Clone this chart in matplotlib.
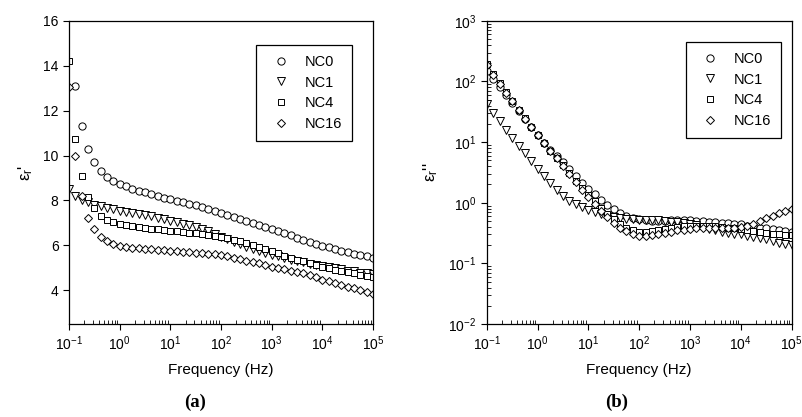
import matplotlib
matplotlib.use('Agg')
import matplotlib.pyplot as plt
from matplotlib.ticker import LogLocator, NullFormatter
import numpy as np

plt.rcParams['font.family'] = ['Liberation Sans', 'DejaVu Sans']
plt.rcParams['mathtext.fontset'] = 'custom'
plt.rcParams['mathtext.rm'] = 'Liberation Sans'
plt.rcParams['mathtext.it'] = 'Liberation Sans:italic'
plt.rcParams['mathtext.bf'] = 'Liberation Sans:bold'

# measurement grid: 8 points per decade, 0.1 Hz .. 100 kHz
freq = np.logspace(-1, 5, 49)

labels = ['NC0', 'NC1', 'NC4', 'NC16']
markers = ['o', 'v', 's', 'D']
msizes = [5.2, 5.2, 4.6, 4.4]

# (a) real part
eps1_nc0 = [17.5, 13.1, 11.3, 10.3, 9.7, 9.3, 9.04, 8.86, 8.74,
            8.63, 8.53, 8.44, 8.36, 8.28, 8.2, 8.13, 8.06,
            7.99, 7.92, 7.85, 7.78, 7.7, 7.62, 7.53, 7.45,
            7.36, 7.27, 7.18, 7.09, 7.0, 6.91, 6.81, 6.72,
            6.63, 6.54, 6.45, 6.35, 6.26, 6.17, 6.08, 5.99,
            5.91, 5.83, 5.76, 5.69, 5.63, 5.57, 5.51, 5.45]
eps1_nc1 = [8.49, 8.2, 8.04, 7.93, 7.82, 7.74, 7.67, 7.61, 7.55,
            7.5, 7.45, 7.4, 7.35, 7.3, 7.24, 7.17, 7.1,
            7.03, 6.96, 6.89, 6.81, 6.72, 6.62, 6.5, 6.38,
            6.27, 6.16, 6.05, 5.95, 5.85, 5.76, 5.67, 5.59,
            5.51, 5.44, 5.37, 5.31, 5.25, 5.19, 5.13, 5.08,
            5.03, 4.98, 4.93, 4.88, 4.84, 4.79, 4.75, 4.72]
eps1_nc4 = [14.19, 10.76, 9.07, 8.15, 7.65, 7.33, 7.15, 7.03, 6.95,
            6.9, 6.86, 6.82, 6.78, 6.75, 6.71, 6.68, 6.65,
            6.62, 6.6, 6.57, 6.54, 6.5, 6.46, 6.42, 6.38,
            6.32, 6.25, 6.18, 6.1, 6.02, 5.93, 5.84, 5.75,
            5.65, 5.55, 5.46, 5.37, 5.29, 5.2, 5.12, 5.05,
            4.98, 4.92, 4.86, 4.8, 4.75, 4.7, 4.65, 4.6]
eps1_nc16 = [13.04, 10.0, 8.2, 7.23, 6.71, 6.39, 6.19, 6.05, 5.97,
             5.93, 5.9, 5.87, 5.85, 5.83, 5.8, 5.78, 5.76,
             5.74, 5.72, 5.7, 5.68, 5.66, 5.63, 5.6, 5.57,
             5.51, 5.45, 5.38, 5.32, 5.26, 5.2, 5.13, 5.06,
             5.0, 4.93, 4.88, 4.83, 4.76, 4.7, 4.6, 4.48,
             4.4, 4.32, 4.25, 4.17, 4.09, 4.01, 3.93, 3.85]

# (b) imaginary part
eps2_nc0 = [150, 110, 81, 59, 44, 33, 24, 17.5, 13,
            9.8, 7.5, 5.9, 4.7, 3.6, 2.75, 2.15, 1.7,
            1.38, 1.12, 0.92, 0.78, 0.68, 0.61, 0.56, 0.53,
            0.51, 0.5, 0.5, 0.5, 0.51, 0.51, 0.51, 0.51,
            0.5, 0.5, 0.49, 0.48, 0.47, 0.46, 0.45, 0.44,
            0.42, 0.41, 0.39, 0.38, 0.37, 0.35, 0.34, 0.33]
eps2_nc1 = [42.5, 30, 22, 15.9, 11.9, 8.7, 6.6, 4.9, 3.6,
            2.75, 2.1, 1.62, 1.3, 1.08, 0.95, 0.85, 0.77,
            0.7, 0.65, 0.61, 0.58, 0.56, 0.54, 0.53, 0.52,
            0.52, 0.51, 0.51, 0.5, 0.49, 0.48, 0.47, 0.45,
            0.43, 0.4, 0.37, 0.35, 0.33, 0.32, 0.31, 0.3,
            0.28, 0.27, 0.26, 0.25, 0.235, 0.22, 0.21, 0.2]
eps2_nc4 = [195, 135, 95, 66, 48, 34, 24.6, 18, 13.2,
            9.6, 7.2, 5.5, 4.2, 3.1, 2.3, 1.75, 1.35,
            1.05, 0.82, 0.65, 0.53, 0.45, 0.39, 0.35, 0.33,
            0.33, 0.34, 0.35, 0.37, 0.38, 0.4, 0.41, 0.42,
            0.42, 0.42, 0.42, 0.41, 0.4, 0.39, 0.38, 0.37,
            0.36, 0.34, 0.33, 0.32, 0.31, 0.3, 0.295, 0.29]
eps2_nc16 = [185, 128, 92, 64, 47, 34, 24.5, 17.8, 13,
             9.5, 7.1, 5.4, 4.1, 3.0, 2.2, 1.65, 1.25,
             0.95, 0.74, 0.58, 0.47, 0.39, 0.34, 0.3, 0.28,
             0.28, 0.29, 0.3, 0.32, 0.33, 0.35, 0.36, 0.37,
             0.38, 0.38, 0.39, 0.39, 0.39, 0.39, 0.39, 0.4,
             0.42, 0.45, 0.5, 0.55, 0.61, 0.67, 0.73, 0.79]

eps1 = [eps1_nc0, eps1_nc1, eps1_nc4, eps1_nc16]
eps2 = [eps2_nc0, eps2_nc1, eps2_nc4, eps2_nc16]

fig = plt.figure(figsize=(8.02, 4.17), dpi=100)
ax1 = fig.add_axes([0.086, 0.223, 0.379, 0.727])
ax2 = fig.add_axes([0.607, 0.223, 0.380, 0.727])


def style_axis(ax):
    ax.set_xscale('log')
    ax.set_xlim(0.1, 1e5)
    ax.xaxis.set_minor_locator(LogLocator(base=10, subs=np.arange(2, 10), numticks=20))
    ax.xaxis.set_minor_formatter(NullFormatter())
    ax.tick_params(which='major', direction='out', length=4, width=0.8,
                   labelsize=10, top=False, right=False)
    ax.tick_params(which='minor', direction='in', length=3, width=0.6,
                   top=False, right=False)
    for sp in ax.spines.values():
        sp.set_linewidth(0.9)
    ax.set_xlabel('Frequency (Hz)', fontsize=11, labelpad=7)


for ys, lab, mk, ms in zip(eps1, labels, markers, msizes):
    ax1.plot(freq, ys, linestyle='none', marker=mk, markersize=ms,
             markerfacecolor='white', markeredgecolor='black',
             markeredgewidth=0.7, label=lab)
style_axis(ax1)
ax1.set_ylim(2.5, 16)
ax1.set_yticks([4, 6, 8, 10, 12, 14, 16])
ax1.set_ylabel("ε$_\\mathregular{r}$'", fontsize=12, labelpad=6)

for ys, lab, mk, ms in zip(eps2, labels, markers, msizes):
    ax2.plot(freq, ys, linestyle='none', marker=mk, markersize=ms,
             markerfacecolor='white', markeredgecolor='black',
             markeredgewidth=0.7, label=lab)
style_axis(ax2)
ax2.set_yscale('log')
ax2.set_ylim(1e-2, 1e3)
ax2.yaxis.set_minor_locator(LogLocator(base=10, subs=np.arange(2, 10), numticks=20))
ax2.yaxis.set_minor_formatter(NullFormatter())
ax2.tick_params(which='minor', axis='y', direction='in', length=3, width=0.6)
ax2.set_ylabel("ε$_\\mathregular{r}$''", fontsize=12, labelpad=6)

leg_kw = dict(loc='upper right', frameon=True, fancybox=False, fontsize=10.5,
              handlelength=2.0, handletextpad=0.6, labelspacing=0.45,
              borderpad=0.7, edgecolor='black', framealpha=1)
leg1 = ax1.legend(bbox_to_anchor=(0.955, 0.945), **leg_kw)
leg1.get_frame().set_linewidth(0.9)
leg2 = ax2.legend(bbox_to_anchor=(0.99, 0.955), **leg_kw)
leg2.get_frame().set_linewidth(0.9)

fig.text(0.243, 0.035, '(a)', ha='center', va='center', fontsize=13.5,
         fontweight='bold', family='Liberation Serif')
fig.text(0.769, 0.035, '(b)', ha='center', va='center', fontsize=13.5,
         fontweight='bold', family='Liberation Serif')

fig.savefig('out.png', dpi=100, facecolor='white')
